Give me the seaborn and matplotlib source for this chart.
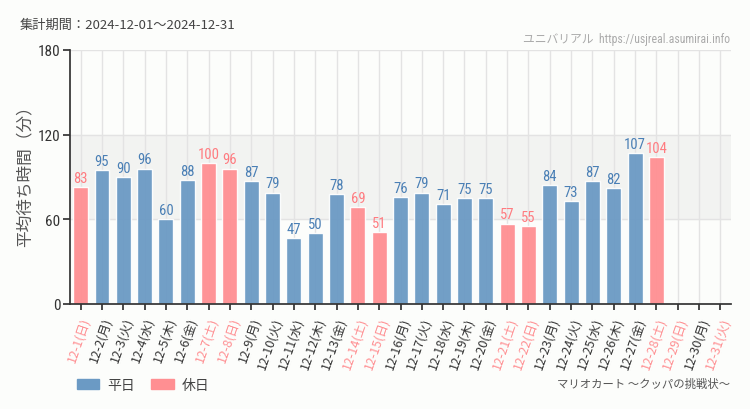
import matplotlib
matplotlib.use("Agg")
import matplotlib.pyplot as plt
import seaborn as sns
import pandas as pd
from matplotlib.patches import Patch
from matplotlib import font_manager as fm

days = list(range(1, 32))
weekdays = ["日", "月", "火", "水", "木", "金", "土"]
holiday_days = [1, 7, 8, 14, 15, 21, 22, 28, 29, 31]
values = [83, 95, 90, 96, 60, 88, 100, 96, 87, 79, 47, 50, 78, 69, 51,
          76, 79, 71, 75, 75, 57, 55, 84, 73, 87, 82, 107, 104]
labels = [f"12-{d}({weekdays[(d - 1) % 7]})" for d in days]
kinds = ["休日" if d in holiday_days else "平日" for d in days]

sns.set_theme(style="white")
plt.rcParams['font.family'] = ['Noto Sans CJK JP', 'DejaVu Sans']

names = {f.name for f in fm.fontManager.ttflist}
NARROW = None
for cand in ["Liberation Sans Narrow", "Roboto Condensed", "DejaVu Sans Condensed"]:
    if cand in names:
        NARROW = cand
        break

BLUE = "#6b9ac4"
PINK = "#ff8f92"
BLUE_T = "#4a7fb5"
PINK_T = "#ff7b80"
BG = "#fcfdfb"

df = pd.DataFrame({"label": labels[:len(values)], "value": values,
                   "kind": kinds[:len(values)]})

fig = plt.figure(figsize=(7.5, 4.1), dpi=100, facecolor=BG)
ax = fig.add_axes([70/750, 1-305/410, 661/750, 254/410])
ax.set_facecolor(BG)

ax.axhspan(60, 120, color="#f2f3f1", zorder=0)
for i in range(len(labels)):
    ax.axvline(i, color="#e3e3e3", lw=1, zorder=0.5)
for yv in [60, 120, 180]:
    ax.axhline(yv, color="#e3e3e3", lw=1, zorder=0.5)

sns.barplot(data=df, x="label", y="value", hue="kind", order=labels,
            hue_order=["平日", "休日"], palette={"平日": BLUE, "休日": PINK},
            dodge=False, width=0.7, ax=ax, legend=False, alpha=0.95,
            zorder=2, saturation=1)

fam_narrow = [NARROW, 'DejaVu Sans'] if NARROW else ['DejaVu Sans']
num_kw = dict(family=fam_narrow, stretch="condensed")
for i, (v, k) in enumerate(zip(values, kinds)):
    ax.text(i, v + 1.5, str(v), ha="center", va="bottom", fontsize=10.5,
            color=PINK_T if k == "休日" else BLUE_T, zorder=3, **num_kw)

ax.set_xlim(-0.5, len(labels) - 0.5)
ax.set_ylim(0, 180)
ax.set_yticks([0, 60, 120, 180])
ax.tick_params(axis="y", length=5, color="#333", labelsize=11, labelcolor="#333", pad=2, left=True)
ax.tick_params(axis="x", length=4, color="#333", pad=4, bottom=True)
ax.set_xticks(range(len(labels)))
ax.set_xticklabels(labels, rotation=71, ha="right", rotation_mode="anchor")
tick_fam = ([NARROW] if NARROW else []) + ['Noto Sans CJK JP', 'DejaVu Sans']
for t, k in zip(ax.get_xticklabels(), kinds):
    t.set_fontproperties(fm.FontProperties(family=['Noto Sans CJK JP', 'DejaVu Sans'], size=9))
    t.set_color(PINK if k == "休日" else "#333333")
for lab in ax.get_yticklabels():
    lab.set_fontproperties(fm.FontProperties(size=11, **num_kw))

for s in ["top", "right"]:
    ax.spines[s].set_visible(False)
ax.spines["left"].set_color("#333")
ax.spines["bottom"].set_color("#333")
ax.set_xlabel("")
ax.set_ylabel("平均待ち時間（分）", fontsize=12, color="#555")
ax.yaxis.set_label_coords(-0.0545, 0.524)

fig.text(20/750, 1-25/410, "集計期間：2024-12-01～2024-12-31", fontsize=9.5,
         color="#444", va="center", ha="left")
fig.text(730/750, 1-40/410, "ユニバリアル  https://usjreal.asumirai.info", fontsize=8.5,
         color="#aaaaaa", va="center", ha="right", family=tick_fam)
fig.text(730/750, 1-384/410, "マリオカート ～クッパの挑戦状～", fontsize=8.2,
         color="#555", va="center", ha="right")

handles = [Patch(color=BLUE, label="平日"), Patch(color=PINK, label="休日")]
fig.legend(handles=handles, loc="center left", bbox_to_anchor=(64/750, 1-386/410),
           ncol=2, frameon=False, fontsize=10, handlelength=1.6, handleheight=0.8,
           columnspacing=1.2, handletextpad=0.6, labelcolor="#444")

fig.savefig("out.png", dpi=100, facecolor=BG)
